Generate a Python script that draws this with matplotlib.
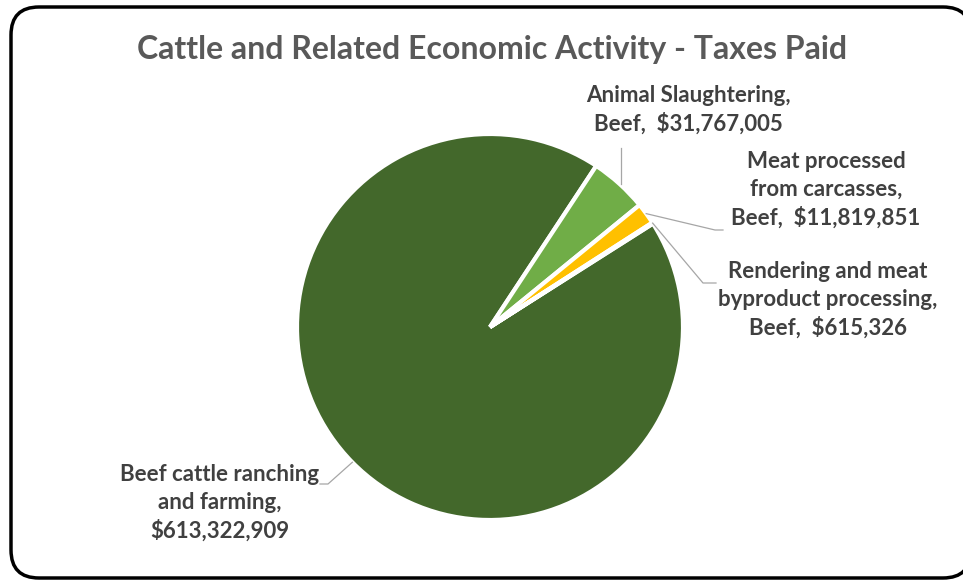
import numpy as np
import matplotlib
matplotlib.use("Agg")
import matplotlib.pyplot as plt
from matplotlib.patches import FancyBboxPatch

# taxes paid per activity, in dollars
categories = ["Beef cattle ranching\nand farming",
              "Animal Slaughtering,\nBeef",
              "Meat processed\nfrom carcasses,\nBeef",
              "Rendering and meat\nbyproduct processing,\nBeef"]
taxes = [613322909, 31767005, 11819851, 615326]
colors = ["#43682B", "#70AD47", "#FFC000", "#43682B"]

W, H = 963, 584
fnt = ["Lato", "DejaVu Sans"]
txt_col = "#404040"

fig = plt.figure(figsize=(W / 100, H / 100), dpi=100)
ax = fig.add_axes([0, 0, 1, 1])

# rounded frame around the chart area
frame = FancyBboxPatch((11, 6), 960, 571, boxstyle="round,pad=0,rounding_size=28",
                       fc="white", ec="black", lw=2.5, zorder=0)
ax.add_patch(frame)

cx, cy, r = 490, H - 327, 193
wedges, _ = ax.pie(taxes, colors=colors, startangle=32.4, counterclock=False,
                   center=(cx, cy), radius=r, frame=True,
                   wedgeprops=dict(edgecolor="white", linewidth=3))
ax.set_xlim(0, W)
ax.set_ylim(0, H)
ax.axis("off")

ax.text(492, H - 50, "Cattle and Related Economic Activity - Taxes Paid",
        ha="center", va="center", fontsize=23, fontweight="bold",
        color="#595959", family=fnt)


def edge_pt(w):
    a = np.deg2rad((w.theta1 + w.theta2) / 2)
    return cx + r * np.cos(a), cy + r * np.sin(a)


def label(i, x, y):
    s = "{},  ${:,}".format(categories[i], taxes[i])
    if i == 0:
        s = "{},\n${:,}".format(categories[i], taxes[i])
    ax.text(x, H - y, s, ha="center", va="center", multialignment="center",
            fontsize=16, fontweight="bold", color=txt_col, family=fnt,
            linespacing=1.38)


# leader lines: from slice edge to a short horizontal/vertical tail
lc = dict(color="#A6A6A6", lw=0.9, zorder=3)
x0, y0 = edge_pt(wedges[0])
ax.plot([x0, 328, 320], [y0, H - 484, H - 484], **lc)
x1, y1 = edge_pt(wedges[1])
ax.plot([621, 621], [y1, H - 148], **lc)
x2, y2 = edge_pt(wedges[2])
ax.plot([x2, 715, 723], [y2, H - 230, H - 230], **lc)
x3, y3 = edge_pt(wedges[3])
ax.plot([x3, 703, 716], [y3, H - 283, H - 283], **lc)

label(0, 220, 503)
label(1, 688, 110)
label(2, 826, 190)
label(3, 828, 300)

fig.savefig("out.png", dpi=100)
